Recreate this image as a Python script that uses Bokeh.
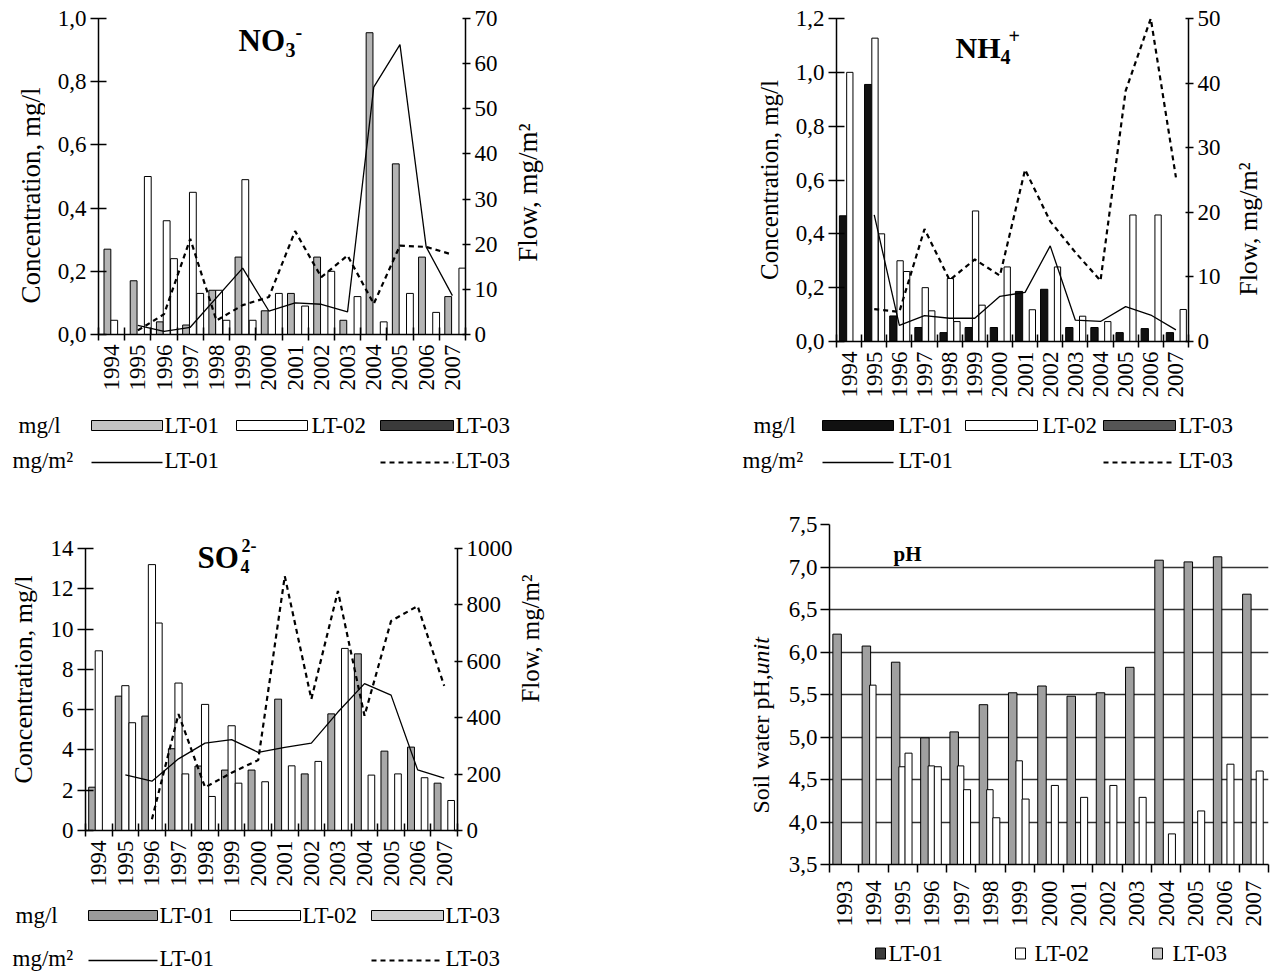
import math
from bokeh.plotting import figure
from bokeh.models import Range1d, LinearAxis, FixedTicker, Label, ColumnDataSource
from bokeh.layouts import column, row
from bokeh.core.properties import value
from bokeh.embed import file_html
from bokeh.resources import INLINE

FONT = "Liberation Serif"

# ---------------- data ----------------
years = list(range(1994, 2008))
year_labels = [str(y) for y in years]
ph_years = list(range(1993, 2008))
ph_year_labels = [str(y) for y in ph_years]

# NO3- concentration, mg/l (bars as drawn in each year group)
no3_lt01 = [0.27, 0.17, 0.04, 0.03, 0.14, 0.245, 0.075, 0.13, 0.245, 0.045, 0.955, 0.54, 0.245, 0.12]
no3_lt02 = [0.045, None, 0.36, 0.45, 0.14, 0.49, None, None, None, None, None, None, None, None]
no3_lt03 = [None, 0.50, 0.24, 0.13, 0.045, 0.045, 0.13, 0.09, 0.20, 0.12, 0.04, 0.13, 0.07, 0.21]
# NO3- flow, mg/m2
no3_flow01_years = [1995, 1996, 1997, 1999, 2000, 2001, 2002, 2003, 2004, 2005, 2006, 2007]
no3_flow01 = [2.0, 0.7, 1.6, 14.7, 5.2, 7.0, 6.7, 5.0, 54.8, 64.2, 19.4, 8.6]
no3_flow03_years = list(range(1995, 2008))
no3_flow03 = [0.9, 4.5, 21.2, 3.1, 6.5, 8.3, 22.9, 12.7, 17.5, 6.8, 19.7, 19.4, 17.7]
no3_conc_ticks = [0, 0.2, 0.4, 0.6, 0.8, 1.0]
no3_conc_labels = ["0,0", "0,2", "0,4", "0,6", "0,8", "1,0"]
no3_flow_ticks = [0, 10, 20, 30, 40, 50, 60, 70]

# NH4+ concentration, mg/l
nh4_lt01 = [0.467, 0.955, 0.095, 0.052, 0.033, 0.052, 0.052, 0.186, 0.194, 0.052, 0.052, 0.033, 0.048, 0.033]
nh4_lt02 = [1.0, 1.127, 0.30, 0.20, 0.234, 0.485, None, None, None, None, None, None, None, None]
nh4_lt03 = [None, 0.40, 0.26, 0.114, 0.074, 0.135, 0.277, 0.118, 0.277, 0.094, 0.074, 0.47, 0.47, 0.119]
nh4_flow_years = list(range(1995, 2008))
nh4_flow01 = [19.6, 2.5, 4.0, 3.6, 3.6, 7.0, 7.6, 14.8, 3.3, 3.1, 5.4, 4.1, 1.8]
nh4_flow03 = [5.0, 4.6, 17.4, 9.5, 12.7, 10.2, 26.6, 18.6, 13.8, 9.4, 38.8, 50.0, 25.4]
nh4_conc_ticks = [0, 0.2, 0.4, 0.6, 0.8, 1.0, 1.2]
nh4_conc_labels = ["0,0", "0,2", "0,4", "0,6", "0,8", "1,0", "1,2"]
nh4_flow_ticks = [0, 10, 20, 30, 40, 50]

# SO4 2- concentration, mg/l
so4_lt01 = [2.15, 6.67, 5.68, 4.06, 3.2, 3.0, 3.0, 6.52, 2.81, 5.79, 8.77, 3.94, 4.14, 2.35]
so4_lt02 = [8.92, 7.19, 13.2, 7.32, 6.26, 5.2, None, None, None, None, None, None, None, None]
so4_lt03 = [None, 5.35, 10.3, 2.81, 1.69, 2.35, 2.42, 3.21, 3.43, 9.04, 2.75, 2.81, 2.62, 1.49]
so4_flow01_years = list(range(1995, 2008))
so4_flow01 = [197, 175, 254, 310, 322, 277, 295, 310, 420, 521, 480, 215, 186]
so4_flow03_years = list(range(1996, 2008))
so4_flow03 = [40, 413, 153, 205, 250, 902, 466, 849, 407, 743, 796, 513]
so4_conc_ticks = [0, 2, 4, 6, 8, 10, 12, 14]
so4_flow_ticks = [0, 200, 400, 600, 800, 1000]

# soil water pH
ph_lt01 = [6.21, 6.07, 5.88, 4.99, 5.06, 5.38, 5.52, 5.60, 5.48, 5.52, 5.82, 7.08, 7.06, 7.12, 6.68]
ph_lt02 = [None, 5.61, 4.65, 4.66, 4.66, 4.38, 4.72, None, None, None, None, None, None, None, None]
ph_lt03 = [None, None, 4.81, 4.65, 4.38, 4.05, 4.27, 4.43, 4.29, 4.43, 4.29, 3.86, 4.13, 4.68, 4.60]
ph_ticks = [3.5, 4.0, 4.5, 5.0, 5.5, 6.0, 6.5, 7.0, 7.5]
ph_labels = ["3,5", "4,0", "4,5", "5,0", "5,5", "6,0", "6,5", "7,0", "7,5"]

TICK_SIZE = "23px"


class Panel:
    def __init__(self, W, H, left, right, top, bottom, n, y0, y1, ox, oy):
        self.fl = left
        self.fw = W - left - right
        self.ft = top
        self.fh = H - top - bottom
        self.n = n
        self.y0 = y0
        self.y1 = y1
        self.ox = ox
        self.oy = oy
        p = figure(width=W, height=H, x_range=Range1d(0, n), y_range=Range1d(y0, y1),
                   output_backend="svg", toolbar_location=None,
                   min_border_left=left, min_border_right=right,
                   min_border_top=top, min_border_bottom=bottom)
        p.outline_line_color = None
        p.xgrid.visible = False
        p.ygrid.visible = False
        p.background_fill_color = "white"
        p.border_fill_color = "white"
        self.p = p

    def dx(self, px):
        return (px - self.ox - self.fl) / self.fw * self.n

    def dy(self, py):
        return self.y0 + (self.ft + self.fh - (py - self.oy)) / self.fh * (self.y1 - self.y0)

    def label(self, px, py, text, size, style="normal"):
        self.p.add_layout(Label(x=self.dx(px), y=self.dy(py), text=text, text_font=FONT,
                                text_font_size=size, text_font_style=style,
                                text_align="left", text_baseline="middle", text_color="black"))


def style_axis(ax, tick_in, tick_out, label_size="25px"):
    ax.axis_line_color = "black"
    ax.axis_line_width = 1.5
    ax.major_tick_line_color = "black"
    ax.major_tick_line_width = 1.5
    ax.major_tick_in = tick_in
    ax.major_tick_out = tick_out
    ax.minor_tick_line_color = "black"
    ax.minor_tick_line_width = 1.5
    ax.major_label_text_font = FONT
    ax.major_label_text_font_size = TICK_SIZE
    ax.major_label_text_color = "black"
    ax.axis_label_text_font = FONT
    ax.axis_label_text_font_size = label_size
    ax.axis_label_text_font_style = "normal"
    ax.axis_label_text_color = "black"


def setup_x(pn, labels, tin, tout, standoff):
    n = len(labels)
    centers = [i + 0.5 for i in range(n)]
    xa = pn.p.xaxis[0]
    xa.ticker = FixedTicker(ticks=centers, minor_ticks=list(range(n + 1)))
    xa.major_label_overrides = {c: lab for c, lab in zip(centers, labels)}
    style_axis(xa, 0, 0)
    xa.minor_tick_in = tin
    xa.minor_tick_out = tout
    xa.major_label_orientation = math.pi / 2
    xa.major_label_standoff = standoff


def setup_y(pn, ticks, labels, axis_label, tin, tout, label_size="25px", bounds=None):
    ya = pn.p.yaxis[0]
    ya.ticker = FixedTicker(ticks=ticks)
    if labels is not None:
        ya.major_label_overrides = {t: lab for t, lab in zip(ticks, labels)}
    style_axis(ya, tin, tout, label_size)
    ya.minor_tick_line_color = None
    ya.major_label_standoff = 4
    if bounds is not None:
        ya.bounds = bounds
    if axis_label:
        ya.axis_label = axis_label
        ya.axis_label_standoff = 10


def add_right(pn, r0, r1, ticks, bounds=None):
    pn.p.extra_y_ranges = {"flow": Range1d(r0, r1)}
    ra = LinearAxis(y_range_name="flow", ticker=FixedTicker(ticks=ticks))
    style_axis(ra, 3, 5)
    ra.minor_tick_line_color = None
    ra.major_label_standoff = 4
    if bounds is not None:
        ra.bounds = bounds
    pn.p.add_layout(ra, "right")


def bars(pn, vals, offset, width, color, bottom=0.0):
    xs, tops = [], []
    for i, v in enumerate(vals):
        if v is None:
            continue
        xs.append(i + offset)
        tops.append(v)
    src = ColumnDataSource(dict(x=xs, top=tops))
    pn.p.vbar(x="x", top="top", bottom=bottom, width=width, source=src,
              fill_color=color, line_color="black", line_width=1)


def flow_line(pn, yrs, vals, first, dashed=False):
    xs = [y - first + 0.5 for y in yrs]
    if dashed:
        pn.p.line(xs, vals, y_range_name="flow", line_color="black", line_width=2.2, line_dash="5 4")
    else:
        pn.p.line(xs, vals, y_range_name="flow", line_color="black", line_width=1.3)


def blank_fig(W, H, top=0, bottom=0):
    f = figure(width=W, height=H, x_range=Range1d(0, W), y_range=Range1d(H - bottom, top),
               output_backend="svg", toolbar_location=None, min_border=0,
               min_border_left=0, min_border_right=0,
               min_border_top=top, min_border_bottom=bottom,
               x_axis_location=None, y_axis_location=None)
    f.grid.visible = False
    f.outline_line_color = None
    f.background_fill_color = "white"
    f.border_fill_color = "white"
    return f


def ltext(f, x, y, t, size="23px", style="normal", angle=0.0, align="left"):
    f.text(x=[x], y=[y], text=[t], text_font=value(FONT), text_font_size=value(size),
           text_font_style=style, angle=angle,
           text_baseline="middle", text_align=align, text_color="black")


def vtext(f, x, y, t, size):
    ltext(f, x, y, t, size, angle=math.pi / 2, align="center")


def swatch(f, x0, x1, yc, color, h=10):
    f.quad(left=[x0], right=[x1], top=[yc - h / 2], bottom=[yc + h / 2],
           fill_color=color, line_color="black", line_width=1)


def lline(f, x0, x1, yc, dashed=False):
    if dashed:
        f.line([x0, x1], [yc, yc], line_color="black", line_width=2, line_dash="5 4")
    else:
        f.line([x0, x1], [yc, yc], line_color="black", line_width=1.3)


# ---------------- NO3 panel ----------------
no3 = Panel(460, 400, 53, 40, 18, 66, 14, 0, 1.0, 45, 0)
setup_x(no3, year_labels, 7, 6, 4)
setup_y(no3, no3_conc_ticks, no3_conc_labels, None, 8, 8)
add_right(no3, 0, 70, no3_flow_ticks)
bars(no3, no3_lt01, 0.34, 0.26, "#b4b4b4")
bars(no3, no3_lt02, 0.60, 0.26, "white")
bars(no3, no3_lt03, 0.88, 0.26, "white")
flow_line(no3, no3_flow01_years, no3_flow01, 1994)
flow_line(no3, no3_flow03_years, no3_flow03, 1994, dashed=True)
no3.label(238, 40, "NO", "31px", "bold")
no3.label(285, 49, "3", "20px", "bold")
no3.label(295, 31, "-", "20px", "bold")
no3_left = blank_fig(45, 400, 18, 66)
vtext(no3_left, 30, 195, "Concentration, mg/l", "27px")
no3_right = blank_fig(55, 400, 18, 66)
vtext(no3_right, 22, 192, "Flow, mg/m²", "27px")

leg_no3 = blank_fig(560, 90)
ltext(leg_no3, 18, 25, "mg/l")
swatch(leg_no3, 91, 162, 25, "#c4c4c4")
ltext(leg_no3, 164, 25, "LT-01")
swatch(leg_no3, 236, 307, 25, "white")
ltext(leg_no3, 311, 25, "LT-02")
swatch(leg_no3, 380, 453, 25, "#3a3a3a")
ltext(leg_no3, 455, 25, "LT-03")
ltext(leg_no3, 12, 60, "mg/m²")
lline(leg_no3, 91, 162, 62)
ltext(leg_no3, 164, 60, "LT-01")
lline(leg_no3, 380, 453, 62, dashed=True)
ltext(leg_no3, 455, 60, "LT-03")

# ---------------- NH4 panel ----------------
nh4 = Panel(668, 400, 276, 40, 18, 57, 14, 0, 1.2, 560, 0)
setup_x(nh4, year_labels, 7, 6, 4)
setup_y(nh4, nh4_conc_ticks, nh4_conc_labels, "Concentration, mg/l", 8, 8, "25px")
add_right(nh4, 0, 50, nh4_flow_ticks)
bars(nh4, nh4_lt01, 0.26, 0.29, "#111111")
bars(nh4, nh4_lt02, 0.53, 0.25, "white")
bars(nh4, nh4_lt03, 0.79, 0.25, "white")
flow_line(nh4, nh4_flow_years, nh4_flow01, 1994)
flow_line(nh4, nh4_flow_years, nh4_flow03, 1994, dashed=True)
nh4.label(955, 47, "NH", "30px", "bold")
nh4.label(1000, 57, "4", "20px", "bold")
nh4.label(1008, 36, "+", "20px", "bold")
nh4_right = blank_fig(48, 400, 18, 57)
vtext(nh4_right, 20, 230, "Flow, mg/m²", "26px")

leg_nh4 = blank_fig(716, 90)
ltext(leg_nh4, 193, 25, "mg/l")
swatch(leg_nh4, 262, 333, 25, "#111111")
ltext(leg_nh4, 338, 25, "LT-01")
swatch(leg_nh4, 405, 477, 25, "white")
ltext(leg_nh4, 482, 25, "LT-02")
swatch(leg_nh4, 543, 615, 25, "#555555")
ltext(leg_nh4, 618, 25, "LT-03")
ltext(leg_nh4, 182, 60, "mg/m²")
lline(leg_nh4, 262, 333, 62)
ltext(leg_nh4, 338, 60, "LT-01")
lline(leg_nh4, 543, 615, 62, dashed=True)
ltext(leg_nh4, 618, 60, "LT-03")

# ---------------- SO4 panel ----------------
# frame extends 20 px above the 14 / 1000 tick so the superscript title fits;
# the axis lines stop at the top tick (bounds)
SO4_AXIS_PX = 282
SO4_EXTRA_PX = 20
SO4_TOP = 58 - SO4_EXTRA_PX
so4_scale = (SO4_AXIS_PX + SO4_EXTRA_PX) / SO4_AXIS_PX
so4 = Panel(515, 405, 85, 58, SO4_TOP, 65, 14, 0, 14 * so4_scale, 0, 490)
setup_x(so4, year_labels, 7, 6, 4)
setup_y(so4, so4_conc_ticks, None, "Concentration, mg/l", 8, 8, "26px", bounds=(0, 14))
add_right(so4, 0, 1000 * so4_scale, so4_flow_ticks, bounds=(0, 1000))
bars(so4, so4_lt01, 0.25, 0.26, "#a8a8a8")
bars(so4, so4_lt02, 0.50, 0.27, "white")
bars(so4, so4_lt03, 0.76, 0.25, "white")
flow_line(so4, so4_flow01_years, so4_flow01, 1994)
flow_line(so4, so4_flow03_years, so4_flow03, 1994, dashed=True)
so4.label(197, 557, "SO", "31px", "bold")
so4.label(240, 566, "4", "18px", "bold")
so4.label(241, 545, "2-", "18px", "bold")
so4_right = blank_fig(45, 405, SO4_TOP, 65)
vtext(so4_right, 15, 148, "Flow, mg/m²", "25px")

leg_so4 = blank_fig(560, 78)
ltext(leg_so4, 15, 20, "mg/l")
swatch(leg_so4, 88, 157, 20, "#9a9a9a")
ltext(leg_so4, 159, 20, "LT-01")
swatch(leg_so4, 230, 300, 20, "white")
ltext(leg_so4, 302, 20, "LT-02")
swatch(leg_so4, 371, 443, 20, "#d0d0d0")
ltext(leg_so4, 445, 20, "LT-03")
ltext(leg_so4, 12, 63, "mg/m²")
lline(leg_so4, 88, 157, 65)
ltext(leg_so4, 159, 63, "LT-01")
lline(leg_so4, 371, 443, 65, dashed=True)
ltext(leg_so4, 445, 63, "LT-03")

# ---------------- pH panel ----------------
PH_LAB_W = 222
ph = Panel(716 - PH_LAB_W, 445, 269 - PH_LAB_W, 8, 34, 71, 15, 3.5, 7.5, 560 + PH_LAB_W, 490)
setup_x(ph, ph_year_labels, 0, 8, 8)
setup_y(ph, ph_ticks, ph_labels, None, 0, 9)
ph.p.yaxis[0].major_label_standoff = 3
ph.p.ygrid.visible = True
ph.p.ygrid.ticker = FixedTicker(ticks=ph_ticks)
ph.p.ygrid.grid_line_color = "#333333"
ph.p.ygrid.grid_line_width = 1.5
bars(ph, ph_lt01, 0.26, 0.29, "#a0a0a0", bottom=3.5)
bars(ph, ph_lt02, 0.48, 0.22, "white", bottom=3.5)
bars(ph, ph_lt03, 0.70, 0.24, "white", bottom=3.5)
ph.label(893, 553, "pH", "21px", "bold")

# y-axis title of the pH panel (normal + italic parts), in its own strip
ph_lab = blank_fig(PH_LAB_W, 445, top=34, bottom=71)
ltext(ph_lab, 200, 323, "Soil water pH,", "24px", angle=math.pi / 2)
ltext(ph_lab, 200, 184, "unit", "24px", style="italic", angle=math.pi / 2)

leg_ph = blank_fig(716, 38)
swatch(leg_ph, 315, 325, 18, "#3c3c3c", h=11)
ltext(leg_ph, 328, 18, "LT-01")
swatch(leg_ph, 455, 465, 18, "white", h=11)
ltext(leg_ph, 474, 18, "LT-02")
swatch(leg_ph, 592, 602, 18, "#c8c8c8", h=11)
ltext(leg_ph, 612, 18, "LT-03")

layout = row(column(row(no3_left, no3.p, no3_right), row(leg_no3),
                    row(so4.p, so4_right), row(leg_so4)),
             column(row(nh4.p, nh4_right), row(leg_nh4),
                    row(ph_lab, ph.p), row(leg_ph)))

open("out.html", "w").write(file_html(layout, INLINE))
